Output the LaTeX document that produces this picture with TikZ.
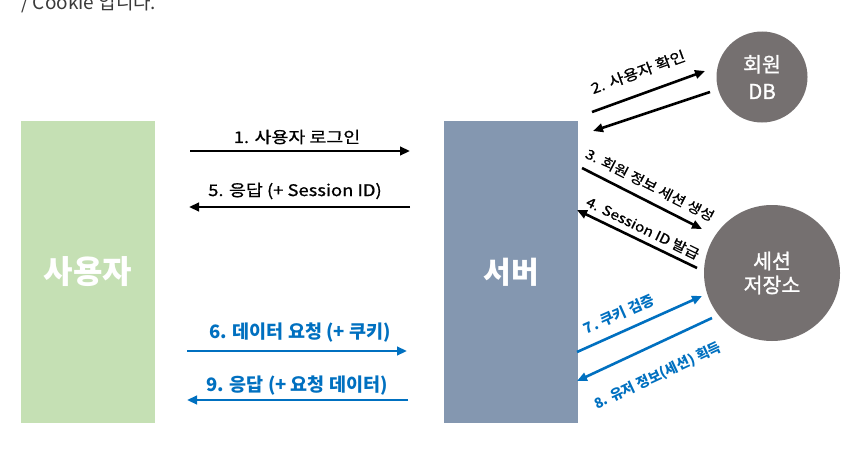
\documentclass[tikz,border=0pt]{standalone}
\usepackage{fontspec}
\setmainfont{Noto Sans CJK KR}
\newfontfamily\lblfont{Noto Sans CJK KR}[FakeStretch=1.15, FakeBold=0.9]
\newfontfamily\circfont{Noto Sans CJK KR}[FakeBold=1.2]
\usetikzlibrary{arrows.meta}
\definecolor{usergreen}{HTML}{C5E0B4}
\definecolor{servblue}{HTML}{8497B0}
\definecolor{circgray}{HTML}{757070}
\definecolor{msgblue}{HTML}{0070C0}
\definecolor{toptext}{HTML}{3A3A3A}
\tikzset{
  bigbox/.style={draw=none, minimum width=134pt, minimum height=302pt, inner sep=0pt,
    text=white},
  store/.style={circle, draw=none, fill=circgray, inner sep=0pt, text=white, align=center,
    font=\circfont\fontsize{20}{26}\selectfont},
  msg/.style={line width=2.6pt, -{Triangle[length=10pt,width=8.5pt]}},
  blackmsg/.style={msg, black},
  bluemsg/.style={msg, msgblue},
  lbl/.style={inner sep=0pt, font=\lblfont\fontsize{16}{18}\selectfont},
  blbl/.style={inner sep=0pt, text=msgblue, font=\fontsize{18.5}{20}\selectfont\bfseries},
  slbl/.style={inner sep=0pt, font=\lblfont\fontsize{13.5}{15}\selectfont},
  bslbl/.style={inner sep=0pt, text=msgblue, font=\fontsize{14.5}{16}\selectfont\bfseries}
}
\begin{document}
\begin{tikzpicture}[x=1pt,y=-1pt]
\useasboundingbox (0,0) rectangle (866,452);
\clip (0,0) rectangle (866,452);
\fill[white] (0,0) rectangle (866,452);

% top cut-off text
\node[anchor=base west, inner sep=0pt, text=toptext, font=\fontsize{19}{22}\selectfont] (top) at (21,10) {/ Cookie 입니다.};

% main blocks
\node[bigbox, fill=usergreen, font=\fontsize{32}{34}\selectfont\bfseries] (user) at (88,272) {사용자};
\node[bigbox, fill=servblue, font=\fontsize{30}{34}\selectfont\bfseries] (server) at (511,272) {서버};
\node[store, minimum size=91pt, font=\circfont\fontsize{20.5}{27}\selectfont] (db) at (762,77) {회원\\DB};
\node[store, minimum size=136pt, font=\circfont\fontsize{20.5}{24}\selectfont] (sess) at (772,273) {세션\\저장소};

% connector end points
\coordinate (a1s) at (190,151); \coordinate (a1e) at (410,151);
\coordinate (a5s) at (410,207); \coordinate (a5e) at (189,207);
\coordinate (a6s) at (187,351); \coordinate (a6e) at (407,351);
\coordinate (a9s) at (408,400); \coordinate (a9e) at (187,400);
\coordinate (a2s) at (592,112); \coordinate (a2e) at (705,71);
\coordinate (r2s) at (710,92);  \coordinate (r2e) at (593,131);
\coordinate (a3s) at (582,168); \coordinate (a3e) at (702,229);
\coordinate (a4s) at (697,268); \coordinate (a4e) at (577,210);
\coordinate (a7s) at (577,352); \coordinate (a7e) at (702,296);
\coordinate (a8s) at (712,318); \coordinate (a8e) at (577,381);

% arrows
\draw[blackmsg] (a1s) -- (a1e);
\draw[blackmsg] (a5s) -- (a5e);
\draw[bluemsg] (a6s) -- (a6e);
\draw[bluemsg] (a9s) -- (a9e);
\draw[blackmsg] (a2s) -- (a2e);
\draw[blackmsg] (r2s) -- (r2e);
\draw[blackmsg] (a3s) -- (a3e);
\draw[blackmsg] (a4s) -- (a4e);
\draw[bluemsg] (a7s) -- (a7e);
\draw[bluemsg] (a8s) -- (a8e);

% labels
\node[lbl] (l1) at (297,137) {1. 사용자 로그인};
\node[lbl] (l5) at (295,191) {5. 응답 (+ Session ID)};
\node[blbl] (l6) at (300,333) {6. 데이터 요청 (+ 쿠키)};
\node[blbl] (l9) at (297,386) {9. 응답 (+ 요청 데이터)};
\node[slbl, rotate=20, font=\lblfont\fontsize{14.5}{16}\selectfont] (l2) at (638,72) {2. 사용자 확인};
\node[slbl, rotate=-27] (l3) at (650,185) {3. 회원 정보 세션 생성};
\node[slbl, rotate=-26] (l4) at (643,228) {4. Session ID 발급};
\node[bslbl, rotate=24] (l7) at (619,314) {7. 쿠키 검증};
\node[bslbl, rotate=25, font=\fontsize{14}{16}\selectfont\bfseries] (l8) at (658,376) {8. 유저 정보(세션) 획득};
\end{tikzpicture}
\end{document}
